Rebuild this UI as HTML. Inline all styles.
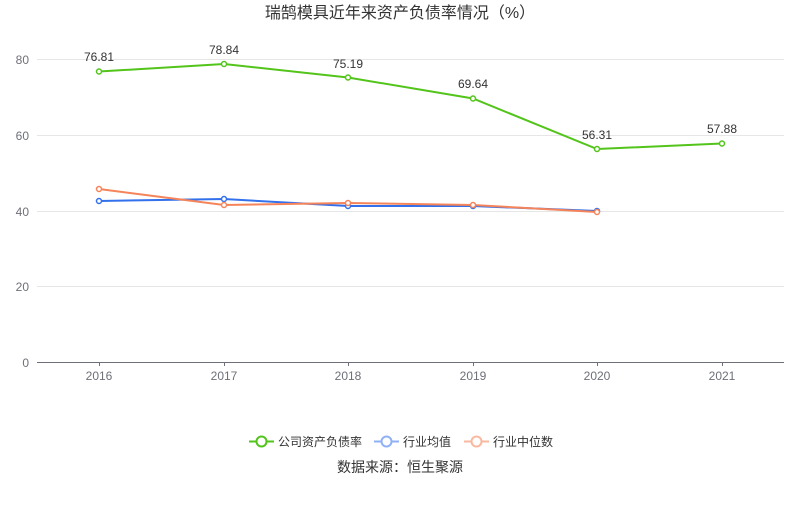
<!DOCTYPE html>
<html><head><meta charset="utf-8"><style>
body{margin:0;background:#fff;}
svg text{font-family:"Liberation Sans","Noto Sans CJK SC",sans-serif;}
</style></head><body>
<svg width="800" height="501" xmlns="http://www.w3.org/2000/svg">
<text x="400" y="18" text-anchor="middle" font-size="16" fill="#333">瑞鹄模具近年来资产负债率情况（%）</text>
<g stroke="#e6e6e6" stroke-width="1">
<line x1="37" y1="59.5" x2="784" y2="59.5"/>
<line x1="37" y1="135.5" x2="784" y2="135.5"/>
<line x1="37" y1="211.5" x2="784" y2="211.5"/>
<line x1="37" y1="286.5" x2="784" y2="286.5"/>
</g>
<line x1="37" y1="362.5" x2="784" y2="362.5" stroke="#6e7079"/>
<g stroke="#6e7079">
<line x1="99.5" y1="362" x2="99.5" y2="366"/><line x1="224.5" y1="362" x2="224.5" y2="366"/><line x1="348.5" y1="362" x2="348.5" y2="366"/><line x1="473.5" y1="362" x2="473.5" y2="366"/><line x1="597.5" y1="362" x2="597.5" y2="366"/><line x1="722.5" y1="362" x2="722.5" y2="366"/>
</g>
<g font-size="12" fill="#6e7079" text-anchor="end">
<text x="29" y="64">80</text><text x="29" y="140">60</text><text x="29" y="216">40</text><text x="29" y="291">20</text><text x="29" y="367">0</text>
</g>
<g font-size="12" fill="#6e7079" text-anchor="middle">
<text x="99" y="380">2016</text><text x="224" y="380">2017</text><text x="348" y="380">2018</text><text x="473" y="380">2019</text><text x="597" y="380">2020</text><text x="722" y="380">2021</text>
</g>
<polyline fill="none" stroke="#3370eb" stroke-width="2" points="99,201 224,199 348,206 473,206 597,211"/>
<polyline fill="none" stroke="#f5845a" stroke-width="2" points="99,189 224,205 348,203 473,205 597,212"/>
<polyline fill="none" stroke="#52c41a" stroke-width="2" points="99,71.5 224,64 348,77.5 473,98.5 597,149 722,143.5"/>
<g fill="#fff" stroke="#3370eb" stroke-width="1.5">
<circle cx="99" cy="201" r="2.5"/><circle cx="224" cy="199" r="2.5"/><circle cx="348" cy="206" r="2.5"/><circle cx="473" cy="206" r="2.5"/><circle cx="597" cy="211" r="2.5"/></g>
<g fill="#fff" stroke="#f5845a" stroke-width="1.5">
<circle cx="99" cy="189" r="2.5"/><circle cx="224" cy="205" r="2.5"/><circle cx="348" cy="203" r="2.5"/><circle cx="473" cy="205" r="2.5"/><circle cx="597" cy="212" r="2.5"/></g>
<g fill="#fff" stroke="#52c41a" stroke-width="1.5">
<circle cx="99" cy="71.5" r="2.5"/><circle cx="224" cy="64" r="2.5"/><circle cx="348" cy="77.5" r="2.5"/><circle cx="473" cy="98.5" r="2.5"/><circle cx="597" cy="149" r="2.5"/><circle cx="722" cy="143.5" r="2.5"/></g>
<g font-size="12" fill="#333" text-anchor="middle">
<text x="99" y="61">76.81</text><text x="224" y="54">78.84</text><text x="348" y="68">75.19</text><text x="473" y="88">69.64</text><text x="597" y="139">56.31</text><text x="722" y="133">57.88</text>
</g>
<g font-size="12" fill="#333">
<line x1="249" y1="441.5" x2="274" y2="441.5" stroke="#52c41a" stroke-width="2"/><circle cx="261.5" cy="441.5" r="5" fill="#fff" stroke="#52c41a" stroke-width="2"/>
<text x="278" y="446">公司资产负债率</text>
<line x1="374" y1="441.5" x2="399" y2="441.5" stroke="#8fb0f5" stroke-width="2"/><circle cx="386.5" cy="441.5" r="5" fill="#fff" stroke="#8fb0f5" stroke-width="2"/>
<text x="403" y="446">行业均值</text>
<line x1="464" y1="441.5" x2="489" y2="441.5" stroke="#f9b8a0" stroke-width="2"/><circle cx="476.5" cy="441.5" r="5" fill="#fff" stroke="#f9b8a0" stroke-width="2"/>
<text x="493" y="446">行业中位数</text>
</g>
<text x="400" y="472" text-anchor="middle" font-size="14" fill="#333">数据来源：恒生聚源</text>
</svg>
</body></html>
